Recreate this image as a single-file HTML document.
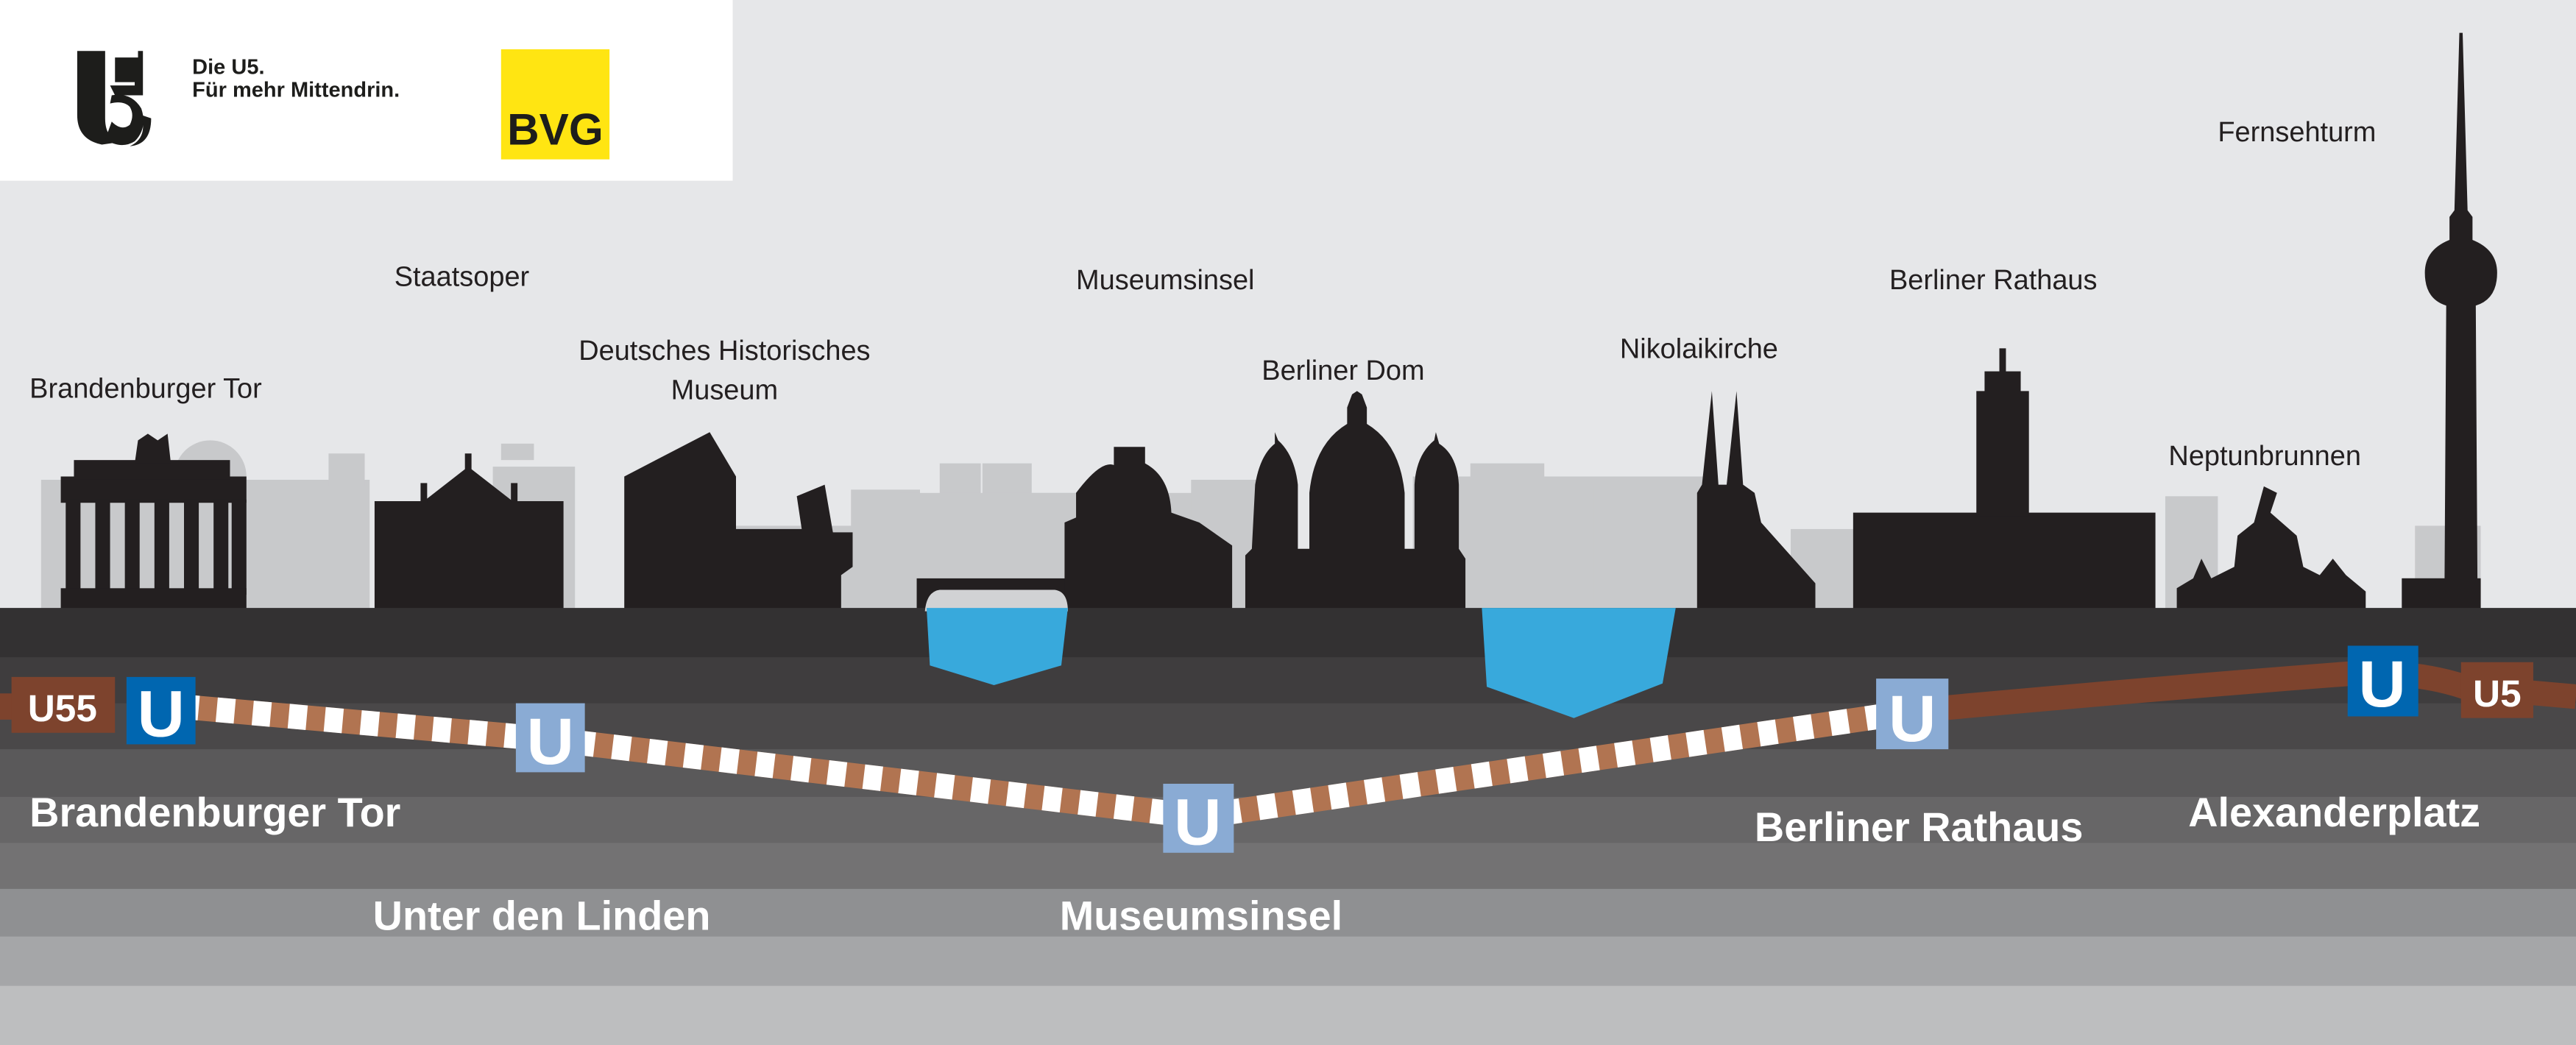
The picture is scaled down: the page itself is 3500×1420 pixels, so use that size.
<!DOCTYPE html>
<html><head><meta charset="utf-8"><style>
html,body{margin:0;padding:0;width:3500px;height:1420px;overflow:hidden;background:#e6e7e9}
svg{display:block}
text{font-family:"Liberation Sans Narrow","Liberation Sans",sans-serif}
</style></head><body>
<svg width="3500" height="1420" viewBox="0 0 1568 636" preserveAspectRatio="none" xmlns="http://www.w3.org/2000/svg">
<rect width="1568" height="636" fill="#e6e7e9"/>
<!-- logo box -->
<rect x="0" y="0" width="446" height="110" fill="#fff"/>
<path d="M47 31 H64 V72 Q64 86 76 86 L62 88 Q47 85 47 70 Z" fill="#1d1d1b"/>
<path d="M67 52 H82 V50 H70 V35 H84 V31 H87 V58 H70 Z" fill="#1d1d1b"/>
<path d="M68 58 Q80 56 86 66 Q90 78 82 86 Q74 91 64 85 L68 74 Q74 80 79 76 Q82 70 79 65 Q75 61 67 63 Z" fill="#1d1d1b"/>
<path d="M86 70 Q90 84 79 89 Q92 88 92 72 Z" fill="#1d1d1b"/>
<text x="117" y="45" font-size="13" font-weight="bold" fill="#1d1d1b">Die U5.</text>
<text x="117" y="59" font-size="13" font-weight="bold" fill="#1d1d1b">Für mehr Mittendrin.</text>
<rect x="305" y="30" width="66" height="67" fill="#ffe512"/>
<text x="338" y="88" font-size="27" font-weight="bold" fill="#1d1d1b" text-anchor="middle">BVG</text>

<!-- light background buildings -->
<g fill="#c8c9cb">
<rect x="25" y="292" width="200" height="80"/>
<circle cx="128" cy="290" r="22"/>
<rect x="200" y="276" width="22" height="20"/>
<rect x="300" y="284" width="50" height="90"/>
<rect x="305" y="270" width="20" height="10"/>
<rect x="440" y="320" width="120" height="52"/>
<rect x="518" y="298" width="42" height="74"/>
<rect x="572" y="282" width="25" height="90"/>
<rect x="598" y="282" width="30" height="90"/>
<rect x="628" y="300" width="30" height="72"/>
<rect x="548" y="300" width="200" height="72"/>
<rect x="725" y="292" width="40" height="80"/>
<rect x="860" y="290" width="180" height="82"/>
<rect x="895" y="282" width="45" height="90"/>
<rect x="970" y="296" width="55" height="76"/>
<rect x="1090" y="322" width="40" height="50"/>
<rect x="1318" y="302" width="32" height="70"/>
<rect x="1470" y="320" width="40" height="52"/>
</g>

<!-- dark silhouettes -->
<g fill="#231f20">
<!-- Brandenburger Tor -->
<rect x="37" y="290" width="113" height="16"/>
<rect x="45" y="280" width="95" height="12"/>
<path d="M82 282 L84 268 L90 264 L96 268 L102 264 L104 282 Z"/>
<rect x="40" y="304" width="9" height="58"/><rect x="58" y="304" width="9" height="58"/>
<rect x="76" y="304" width="9" height="58"/><rect x="94" y="304" width="9" height="58"/>
<rect x="112" y="304" width="9" height="58"/><rect x="130" y="304" width="9" height="58"/>
<rect x="141" y="304" width="9" height="58"/>
<rect x="37" y="358" width="113" height="14"/>
<!-- Staatsoper -->
<path d="M228 305 H258 L285 284 L312 305 H343 V372 H228 Z"/>
<rect x="283" y="276" width="4" height="10"/><rect x="256" y="294" width="4" height="12"/><rect x="311" y="294" width="4" height="12"/>
<!-- DHM -->
<path d="M380 290 L432 263 L448 290 V322 H488 L485 302 L502 295 L507 324 H519 V345 L512 350 V372 H380 Z"/>
<!-- bridge -->
<rect x="558" y="352" width="97" height="20"/>
<!-- Museum dome -->
<path d="M648 318 L655 315 V300 Q670 280 678 283 V272 H697 V282 Q712 290 713 312 L730 318 L750 332 V372 H648 Z"/>
<!-- Berliner Dom -->
<path d="M758 372 V338 L762 334 L764 295 Q767 277 776 270 V263 L778 268 Q788 277 790 295 V334 H797 V300 Q800 270 820 258 V248 L823 240 L826 238 L829 240 L832 248 V258 Q852 270 855 300 V334 H861 V295 Q862 277 873 268 L874 263 L876 270 Q887 277 888 295 V334 L892 340 V372 Z"/>
<!-- Nikolaikirche -->
<path d="M1033 372 V300 L1036 295 L1042 238 L1046 295 L1051 295 L1057 238 L1061 295 L1068 300 L1072 318 L1105 355 V372 Z"/>
<!-- Rathaus -->
<rect x="1128" y="312" width="184" height="60"/>
<rect x="1203" y="238" width="32" height="76"/>
<rect x="1208" y="226" width="22" height="14"/>
<rect x="1217" y="212" width="4" height="16"/>
<!-- Neptunbrunnen -->
<path d="M1325 372 V358 L1335 352 L1340 340 L1346 352 L1360 345 L1362 326 L1372 318 L1378 296 L1386 300 L1382 312 L1398 326 L1402 345 L1412 350 L1420 340 L1428 350 L1440 360 V372 Z"/>
<!-- Fernsehturm -->
<path d="M1497 20 L1499 20 L1502 128 L1505 132 L1505 146 Q1520 152 1520 166 Q1520 182 1507 186 L1508 352 H1462 V372 H1510 V352 L1488 352 L1489 186 Q1476 182 1476 166 Q1476 152 1491 146 L1491 132 L1494 128 Z"/>
<rect x="1462" y="352" width="48" height="20"/>
</g>

<!-- landmark labels -->
<g font-size="17" fill="#231f20" font-family="Liberation Sans, sans-serif">
<text x="18" y="242">Brandenburger Tor</text>
<text x="240" y="174">Staatsoper</text>
<text x="441" y="219" text-anchor="middle">Deutsches Historisches</text>
<text x="441" y="243" text-anchor="middle">Museum</text>
<text x="655" y="176">Museumsinsel</text>
<text x="768" y="231">Berliner Dom</text>
<text x="986" y="218">Nikolaikirche</text>
<text x="1150" y="176">Berliner Rathaus</text>
<text x="1350" y="86">Fernsehturm</text>
<text x="1320" y="283">Neptunbrunnen</text>
</g>

<!-- ground bands -->
<rect x="0" y="370" width="1568" height="31" fill="#333132"/>
<rect x="0" y="400" width="1568" height="29" fill="#3f3d3e"/>
<rect x="0" y="428" width="1568" height="29" fill="#4a4849"/>
<rect x="0" y="456" width="1568" height="30" fill="#5a595a"/>
<rect x="0" y="485" width="1568" height="29" fill="#676667"/>
<rect x="0" y="513" width="1568" height="29" fill="#737273"/>
<rect x="0" y="541" width="1568" height="30" fill="#8f9092"/>
<rect x="0" y="570" width="1568" height="31" fill="#a5a6a8"/>
<rect x="0" y="600" width="1568" height="36" fill="#bdbebf"/>

<!-- water -->
<path d="M563 372 Q564 360 572 359 H642 Q650 360 650 372 Z" fill="#d1d2d4"/>
<path d="M564 370 H650 L646 405 L605 417 L566 405 Z" fill="#38a9dc"/>
<path d="M902 370 H1020 L1012 416 L958 437 L905 418 Z" fill="#38a9dc"/>

<!-- track -->
<path d="M0 430 H40" stroke="#7d432d" stroke-width="16"/>
<path d="M1160 433 Q1300 420 1430 410 Q1470 408 1500 418 L1568 424" stroke="#7d432d" stroke-width="15" fill="none"/>
<polyline points="110,430 335,450 730,497 1165,433" stroke="#b17451" stroke-width="15" fill="none"/>
<polyline points="110,430 335,450 730,497 1165,433" stroke="#fff" stroke-width="15" fill="none" stroke-dasharray="11 11"/>

<!-- U55 / U5 boxes -->
<rect x="7" y="412" width="63" height="34" fill="#7d432d"/>
<text x="38" y="439" font-size="23" font-weight="bold" fill="#fff" text-anchor="middle">U55</text>
<rect x="1498" y="403" width="44" height="34" fill="#7d432d"/>
<text x="1520" y="430" font-size="23" font-weight="bold" fill="#fff" text-anchor="middle">U5</text>

<!-- U signs -->
<g font-size="40" font-weight="bold" fill="#fff" text-anchor="middle" font-family="Liberation Sans, sans-serif">
<rect x="77" y="412" width="42" height="41" fill="#0066b0"/><text x="98" y="448">U</text>
<rect x="314" y="428" width="42" height="42" fill="#8aabd4"/><text x="335" y="465">U</text>
<rect x="708" y="477" width="43" height="42" fill="#8aabd4"/><text x="729" y="514">U</text>
<rect x="1142" y="413" width="44" height="43" fill="#8aabd4"/><text x="1164" y="451">U</text>
<rect x="1429" y="393" width="43" height="43" fill="#0066b0"/><text x="1450" y="430">U</text>
</g>

<!-- station labels -->
<g font-size="25" font-weight="bold" fill="#fff">
<text x="18" y="503">Brandenburger Tor</text>
<text x="227" y="566">Unter den Linden</text>
<text x="645" y="566">Museumsinsel</text>
<text x="1068" y="512">Berliner Rathaus</text>
<text x="1332" y="503">Alexanderplatz</text>
</g>
</svg>
</body></html>
